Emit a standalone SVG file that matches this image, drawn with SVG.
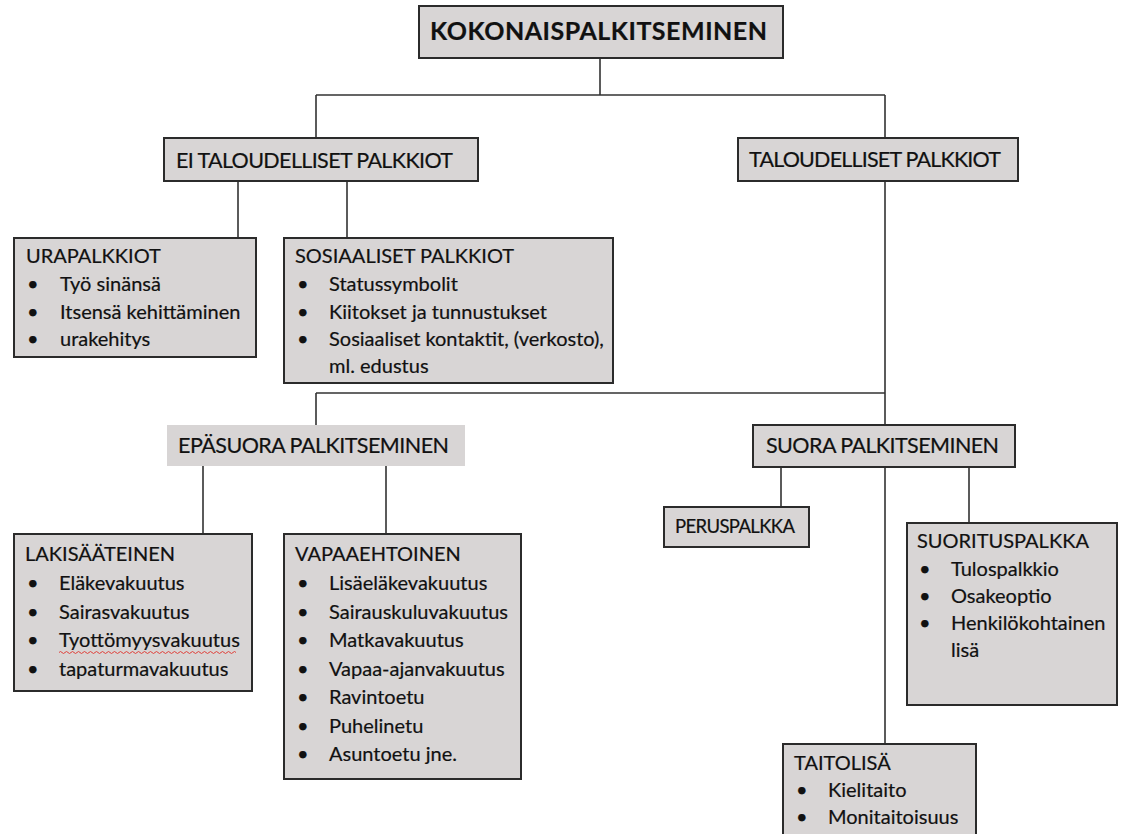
<svg xmlns="http://www.w3.org/2000/svg" width="1128" height="834" viewBox="0 0 1128 834">
<style>
.box{fill:#d8d5d5;stroke:#2b2b2b;stroke-width:2}
.nb{fill:#d8d5d5;stroke:none}
.ln{stroke:#333;stroke-width:1.6;fill:none}
text{font-family:Lato,"Noto Sans","Liberation Sans",sans-serif;fill:#111;stroke:#111;stroke-width:0.2}
.t0{font-size:25px;font-weight:bold}
.t1{font-size:21.5px}
.b{font-size:20px}
.p{font-size:18.5px}
</style>
<rect width="1128" height="834" fill="#fff"/>
<g id="connectors">
<path class="ln" d="M600 58V95M316 95H885M316 95V138M885 95V138M238 181V238M347 181V238M885 181V425M316 393H885M316 393V425M203 466V534M386 466V534M781 467V507M885 467V744M969 467V523"/>
</g>
<g id="kokonais">
<rect class="box" x="419" y="6" width="364" height="52"/>
<text class="t0" x="430" y="40" textLength="337">KOKONAISPALKITSEMINEN</text>
</g>
<g id="ei-taloudelliset">
<rect class="box" x="164" y="138" width="314" height="43"/>
<text class="t1" x="176" y="168" textLength="277">EI TALOUDELLISET PALKKIOT</text>
</g>
<g id="taloudelliset">
<rect class="box" x="738" y="138" width="280" height="43"/>
<text class="t1" x="749" y="167" textLength="252">TALOUDELLISET PALKKIOT</text>
</g>
<g id="urapalkkiot">
<rect class="box" x="14" y="238" width="242" height="119"/>
<text class="b" x="26" y="263">URAPALKKIOT</text>
<text class="b" x="27" y="291">•</text><text class="b" x="60" y="291">Työ sinänsä</text>
<text class="b" x="27" y="318.5">•</text><text class="b" x="60" y="318.5">Itsensä kehittäminen</text>
<text class="b" x="27" y="346">•</text><text class="b" x="60" y="346">urakehitys</text>
</g>
<g id="sosiaaliset">
<rect class="box" x="284" y="238" width="329" height="145"/>
<text class="b" x="295" y="263">SOSIAALISET PALKKIOT</text>
<text class="b" x="297" y="291">•</text><text class="b" x="329" y="291">Statussymbolit</text>
<text class="b" x="297" y="318.5">•</text><text class="b" x="329" y="318.5">Kiitokset ja tunnustukset</text>
<text class="b" x="297" y="346">•</text><text class="b" x="329" y="346">Sosiaaliset kontaktit, (verkosto),</text>
<text class="b" x="329" y="373">ml. edustus</text>
</g>
<g id="epasuora">
<rect class="nb" x="167" y="425" width="298" height="41"/>
<text class="t1" x="178" y="453" textLength="271">EPÄSUORA PALKITSEMINEN</text>
</g>
<g id="suora">
<rect class="box" x="753" y="425" width="262" height="42"/>
<text class="t1" x="766" y="453" textLength="233">SUORA PALKITSEMINEN</text>
</g>
<g id="peruspalkka">
<rect class="box" x="664" y="507" width="145" height="40"/>
<text class="p" x="675" y="533" textLength="120">PERUSPALKKA</text>
</g>
<g id="lakisaateinen">
<rect class="box" x="14" y="534" width="238" height="157"/>
<text class="b" x="25" y="561">LAKISÄÄTEINEN</text>
<text class="b" x="27" y="590">•</text><text class="b" x="59" y="590">Eläkevakuutus</text>
<text class="b" x="27" y="618.5">•</text><text class="b" x="59" y="618.5">Sairasvakuutus</text>
<text class="b" x="27" y="647">•</text><text class="b" x="59" y="647">Tyottömyysvakuutus</text>
<path d="M59 652.5q1.5 -2 3 0t3 0t3 0t3 0t3 0t3 0t3 0t3 0t3 0t3 0t3 0t3 0t3 0t3 0t3 0t3 0t3 0t3 0t3 0t3 0t3 0t3 0t3 0t3 0t3 0t3 0t3 0t3 0t3 0t3 0t3 0t3 0t3 0t3 0t3 0t3 0t3 0t3 0t3 0t3 0t3 0t3 0t3 0t3 0t3 0t3 0t3 0t3 0t3 0t3 0t3 0t3 0t3 0t3 0t3 0t3 0t3 0t3 0t3 0" fill="none" stroke="#e0403a" stroke-width="1"/>
<text class="b" x="27" y="675.5">•</text><text class="b" x="59" y="675.5">tapaturmavakuutus</text>
</g>
<g id="vapaaehtoinen">
<rect class="box" x="284" y="534" width="237" height="245"/>
<text class="b" x="295" y="561">VAPAAEHTOINEN</text>
<text class="b" x="297" y="590">•</text><text class="b" x="329" y="590">Lisäeläkevakuutus</text>
<text class="b" x="297" y="618.5">•</text><text class="b" x="329" y="618.5">Sairauskuluvakuutus</text>
<text class="b" x="297" y="647">•</text><text class="b" x="329" y="647">Matkavakuutus</text>
<text class="b" x="297" y="675.5">•</text><text class="b" x="329" y="675.5">Vapaa-ajanvakuutus</text>
<text class="b" x="297" y="704">•</text><text class="b" x="329" y="704">Ravintoetu</text>
<text class="b" x="297" y="732.5">•</text><text class="b" x="329" y="732.5">Puhelinetu</text>
<text class="b" x="297" y="761">•</text><text class="b" x="329" y="761">Asuntoetu jne.</text>
</g>
<g id="suorituspalkka">
<rect class="box" x="907" y="523" width="210" height="182"/>
<text class="b" x="917" y="548">SUORITUSPALKKA</text>
<text class="b" x="919" y="576">•</text><text class="b" x="951" y="576">Tulospalkkio</text>
<text class="b" x="919" y="603">•</text><text class="b" x="951" y="603">Osakeoptio</text>
<text class="b" x="919" y="630">•</text><text class="b" x="951" y="630">Henkilökohtainen</text>
<text class="b" x="951" y="657">lisä</text>
</g>
<g id="taitolisa">
<rect class="box" x="783" y="744" width="193" height="110"/>
<text class="b" x="794" y="770">TAITOLISÄ</text>
<text class="b" x="796" y="797">•</text><text class="b" x="828" y="797">Kielitaito</text>
<text class="b" x="796" y="824">•</text><text class="b" x="828" y="824">Monitaitoisuus</text>
</g>
</svg>
